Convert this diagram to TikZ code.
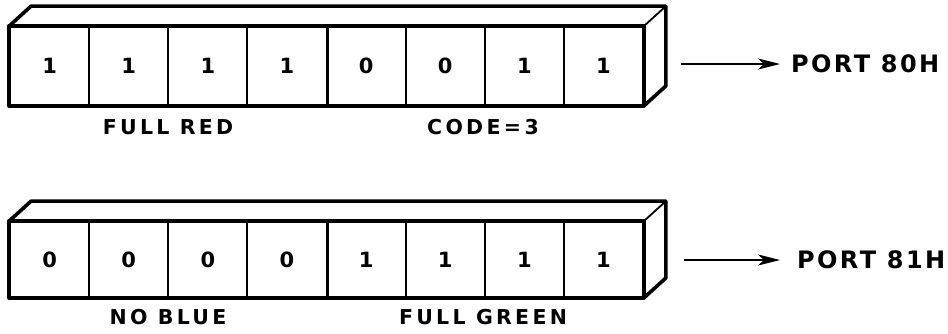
\documentclass[tikz,border=0pt]{standalone}
\usepackage{fontspec}
\setmainfont{DejaVu Sans}
\newfontfamily\labfont[LetterSpace=16]{DejaVu Sans}
\newfontfamily\portfont[LetterSpace=10]{DejaVu Sans}
\usetikzlibrary{arrows.meta}
\tikzset{
  outer/.style={line width=3.6pt, line join=round},
  cell/.style={draw, line width=1.8pt, minimum width=79.125pt, minimum height=#1, inner sep=0pt,
    font=\fontsize{21}{21}\selectfont\bfseries},
  lab/.style={font=\labfont\fontsize{20.5}{21}\selectfont\bfseries, inner sep=0pt},
  port/.style={font=\portfont\fontsize{24}{24}\selectfont\bfseries, inner sep=0pt, anchor=west},
  arr/.style={line width=1.9pt, -{Stealth[length=22pt, width=11pt, inset=6pt]}}
}
\begin{document}
\begin{tikzpicture}[x=1pt,y=-1pt]
\useasboundingbox (0,0) rectangle (948,333);
% ---------- Row A (port 80H) ----------
\foreach \v [count=\i] in {1,1,1,1,0,0,1,1}
  \node[cell=78pt] (a\i) at ({10+79.125*(\i-0.5)},66) {\v};
\draw[line width=3pt] (a4.north east) -- (a4.south east);
\draw[outer] (a1.north west) rectangle (a8.south east);
\draw[outer] (a1.north west) -- ++(22,-20) -- ([xshift=22pt,yshift=20pt]a8.north east)
  -- ([xshift=22pt,yshift=20pt]a8.south east) -- (a8.south east);
\draw[line width=1.8pt] (a8.north east) -- ++(22,-20);
\node[lab] (fr) at (168,127) {FULL RED};
\node[lab] (c3) at (483,127) {CODE\,=\,3};
\node[port] (pA) at (791,64) {PORT 80H};
\draw[arr] ([xshift=37pt]a8.east |- pA.west) -- ([xshift=-11pt]pA.west);
% ---------- Row B (port 81H) ----------
\foreach \v [count=\i] in {0,0,0,0,1,1,1,1}
  \node[cell=75pt] (b\i) at ({10+79.125*(\i-0.5)},259.5) {\v};
\draw[line width=3pt] (b4.north east) -- (b4.south east);
\draw[outer] (b1.north west) rectangle (b8.south east);
\draw[outer] (b1.north west) -- ++(22,-20) -- ([xshift=22pt,yshift=20pt]b8.north east)
  -- ([xshift=22pt,yshift=20pt]b8.south east) -- (b8.south east);
\draw[line width=1.8pt] (b8.north east) -- ++(22,-20);
\node[lab] (nb) at (168,317) {NO BLUE};
\node[lab] (fg) at (483,317) {FULL GREEN};
\node[port] (pB) at (797,260) {PORT 81H};
\draw[arr] ([xshift=40pt]b8.east |- pB.west) -- ([xshift=-17pt]pB.west);
\end{tikzpicture}
\end{document}
